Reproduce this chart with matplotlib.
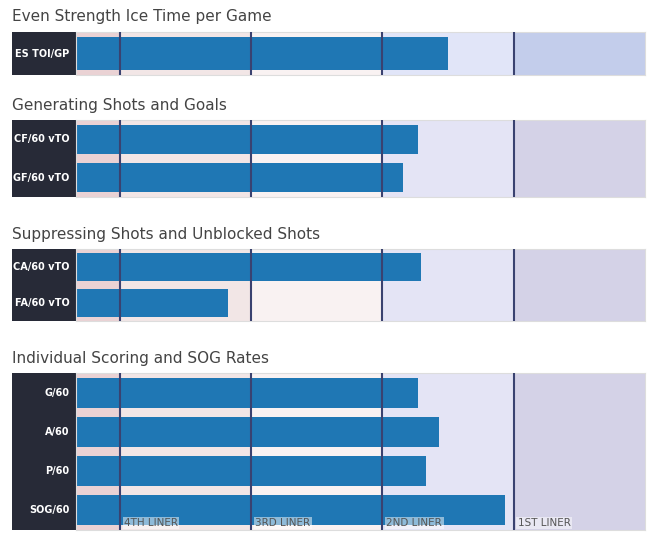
import matplotlib.pyplot as plt

W, H = 654, 543

titles = ['Even Strength Ice Time per Game', 'Generating Shots and Goals',
          'Suppressing Shots and Unblocked Shots', 'Individual Scoring and SOG Rates']
labels = [['ES TOI/GP'], ['CF/60 vTO', 'GF/60 vTO'], ['CA/60 vTO', 'FA/60 vTO'],
          ['G/60', 'A/60', 'P/60', 'SOG/60']]
values = [[3.50], [3.27, 3.16], [3.29, 1.82], [3.27, 3.43, 3.33, 3.93]]
tiers = ['4TH LINER', '3RD LINER', '2ND LINER', '1ST LINER']

# pixel layout: (title y, panel top, panel bottom)
layout = [(17, 32, 75), (105, 120, 197), (234, 249, 321), (358, 373, 530)]
XL, XR = 76, 645
xmin, xmax = 0.665, 5.0

band_cols = ['#ead2d4', '#f2e6e6', '#f9f2f2', '#e4e4f5', '#d4d2e7']
band_cols_top = ['#ead2d4', '#f2e6e6', '#f9f2f2', '#e1e5f8', '#c3cdeb']
edges = [xmin, 1, 2, 3, 4, xmax]

fig = plt.figure(figsize=(W / 100, H / 100), dpi=100)
fig.patch.set_facecolor('white')

for i, (ty, top, bot) in enumerate(layout):
    fig.text(12 / W, 1 - ty / H, titles[i], fontsize=11, color='#444444',
             va='center', ha='left')
    # label column
    lab = fig.add_axes([12 / W, 1 - bot / H, (XL - 12) / W, (bot - top) / H])
    lab.set_facecolor('#272a37')
    lab.set_xticks([]); lab.set_yticks([])
    for s in lab.spines.values():
        s.set_visible(False)
    ax = fig.add_axes([XL / W, 1 - bot / H, (XR - XL) / W, (bot - top) / H])
    n = len(labels[i])
    cols = band_cols_top if i == 0 else band_cols
    for j in range(5):
        ax.axvspan(edges[j], edges[j + 1], color=cols[j], lw=0)
    ys = list(range(n))
    ax.barh(ys, [v - xmin for v in values[i]], left=xmin, height=0.76,
            color='#1f77b4', zorder=2)
    for v in [1, 2, 3, 4]:
        ax.axvline(v, color='#3a4270', lw=1.5, zorder=3)
    ax.set_xlim(xmin, xmax)
    ax.set_ylim(n - 0.5, -0.5)
    ax.set_xticks([]); ax.set_yticks([])
    for s in ax.spines.values():
        s.set_color('#dddddd')
    for y, l in zip(ys, labels[i]):
        lab.text(0.9, 1 - (y + 0.5) / n, l, transform=lab.transAxes, ha='right',
                 va='center', color='white', fontsize=7, fontweight='bold')
    if i == 3:
        for k, t in enumerate(tiers):
            ax.text(1 + k + 0.03, n - 0.5 - 0.05, t, va='bottom', ha='left',
                    fontsize=7.5, color='#555555', zorder=4,
                    bbox=dict(facecolor='white', alpha=0.5, edgecolor='none', pad=1))

fig.savefig('out.png', dpi=100)
